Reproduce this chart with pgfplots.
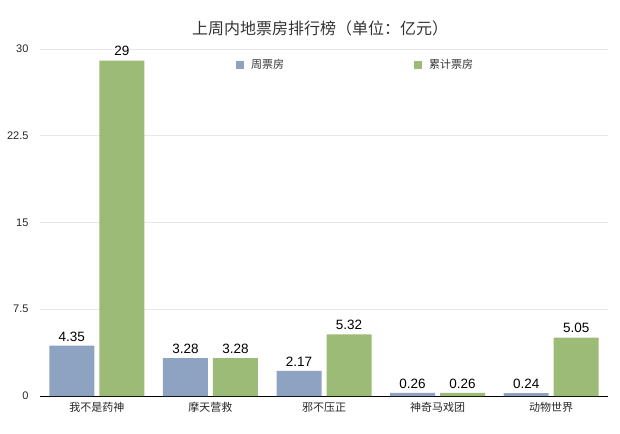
\documentclass[border=0pt]{standalone}
\usepackage{fontspec}
\setmainfont{Liberation Sans}
\newfontfamily\cjk{Noto Sans CJK SC}
\usepackage{pgfplots}
\pgfplotsset{compat=1.18}
\definecolor{weekblue}{RGB}{141,163,193}
\definecolor{totalgreen}{RGB}{156,187,118}
\definecolor{gridgray}{RGB}{232,232,232}

\begin{document}
\begin{tikzpicture}
\useasboundingbox (-40pt,-37pt) rectangle (580pt,396pt);
\begin{axis}[
    at={(0pt,0pt)}, anchor=south west,
    scale only axis,
    width=568pt, height=347pt,
    xmin=-0.5, xmax=4.5,
    ymin=0, ymax=30,
    ybar=5pt, bar width=45pt,
    xtick={0,1,2,3,4},
    xticklabels={我不是药神,摩天营救,邪不压正,神奇马戏团,动物世界},
    xticklabel style={font=\cjk\fontsize{11}{11}\selectfont, text=black!85, yshift=-3pt},
    ytick={0,7.5,15,22.5,30},
    yticklabels={0,7.5,15,22.5,30},
    yticklabel style={font=\fontsize{11}{11}\selectfont, text=black!85, xshift=-8pt},
    major tick length=0pt,
    axis x line*=bottom, axis y line*=left,
    y axis line style={draw=none},
    x axis line style={black, line width=0.9pt},
    ymajorgrids, grid style={draw=gridgray, line width=0.6pt},
    nodes near coords,
    nodes near coords style={font=\fontsize{13.5}{13.5}\selectfont, text=black, yshift=1pt},
    /pgf/number format/assume math mode=true,
    legend columns=2,
    legend style={draw=none, fill=none, inner sep=0pt,
        at={(rel axis cs:0.345,0.955)}, anchor=west,
        font=\cjk\fontsize{11}{11}\selectfont, text=black!80,
        /tikz/every odd column/.append style={column sep=5pt},
        /tikz/every even column/.append style={column sep=128pt}},
    legend image code/.code={\fill[#1] (0pt,-4pt) rectangle (8pt,4pt);},
]
\addplot[fill=weekblue, draw=none] coordinates {(0,4.35) (1,3.28) (2,2.17) (3,0.26) (4,0.24)};
\addplot[fill=totalgreen, draw=none] coordinates {(0,29) (1,3.28) (2,5.32) (3,0.26) (4,5.05)};
\legend{周票房,累计票房}
\end{axis}
\node[font=\cjk\fontsize{16}{16}\selectfont, text=black!80] at (280pt,368pt) {上周内地票房排行榜（单位：亿元）};
\end{tikzpicture}
\end{document}
